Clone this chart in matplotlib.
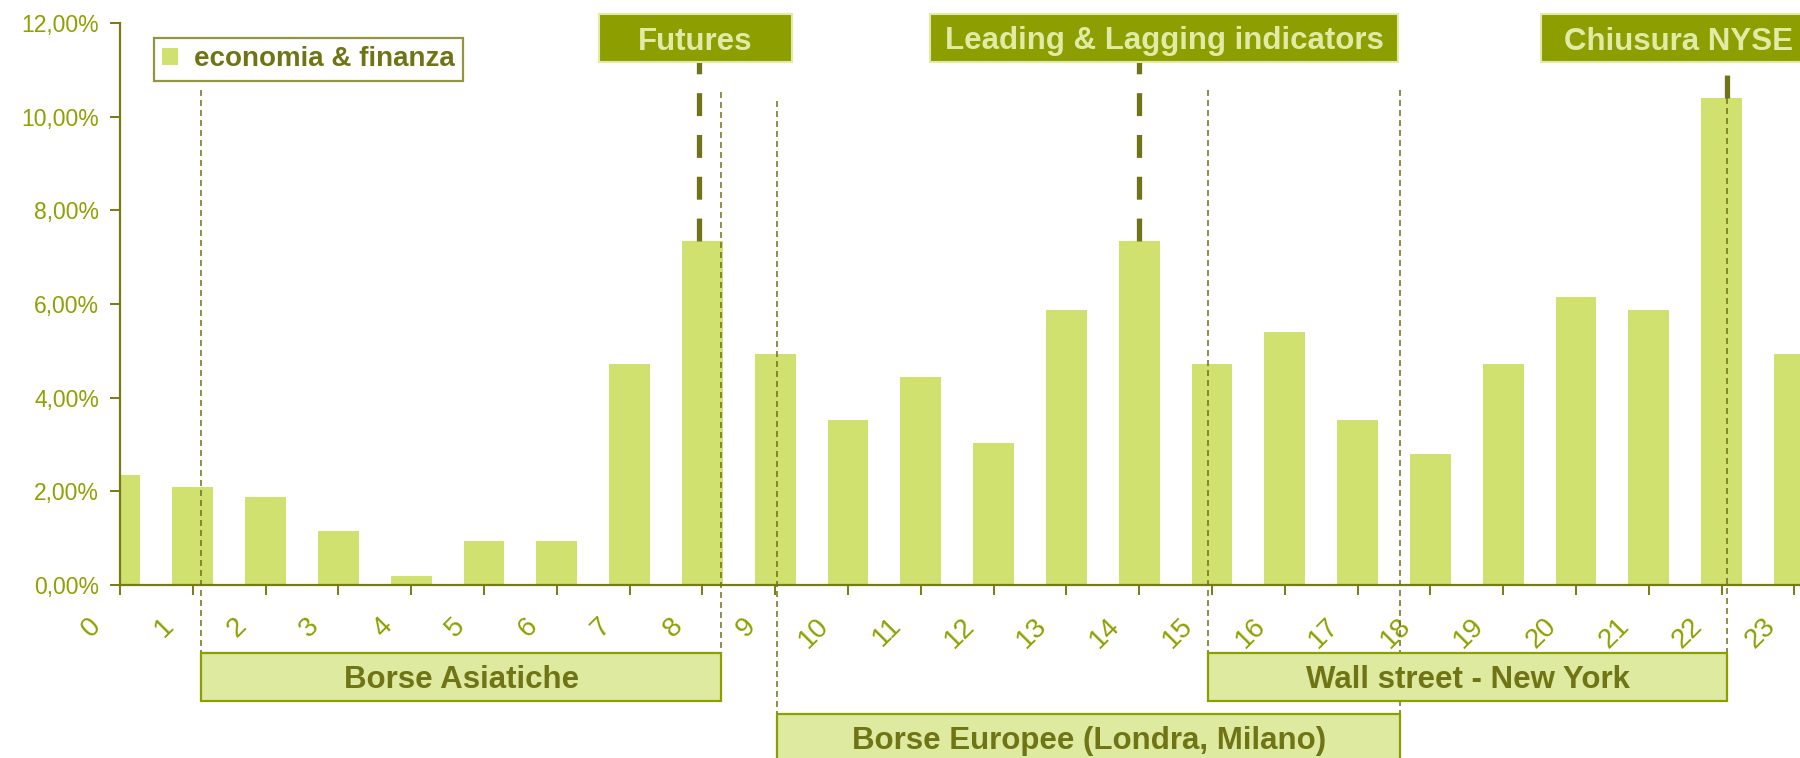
import matplotlib.pyplot as plt
from matplotlib.patches import Rectangle
from matplotlib.lines import Line2D
from matplotlib.transforms import ScaledTranslation
from matplotlib.ticker import FuncFormatter

plt.rcParams["font.family"] = ["Liberation Sans", "DejaVu Sans"]
plt.rcParams["lines.scale_dashes"] = False

# share of posts per hour (%)
hours = list(range(24))
share = [2.35, 2.10, 1.88, 1.15, 0.20, 0.93, 0.93, 4.72, 7.34, 4.94, 3.52, 4.45,
         3.03, 5.87, 7.34, 4.72, 5.41, 3.52, 2.79, 4.72, 6.14, 5.87, 10.40, 4.94]
series_name = "economia & finanza"

# events marked on top (box span in hours, bar they point at)
events = ["Futures", "Leading & Lagging indicators", "Chiusura NYSE"]
event_bar = [8, 14, 22]
event_line_x = [7.95, 14.0, 22.07]
event_span = [(6.58, 9.23), (11.13, 17.55), (19.52, 23.3)]

# market sessions (span in hours, row under the axis)
sessions = ["Borse Asiatiche", "Borse Europee (Londra, Milano)", "Wall street - New York"]
session_span = [(1.11, 8.26), (9.03, 17.58), (14.95, 22.07)]
session_row = [0, 1, 0]
session_line_top = [(90, 92), (101, 90), (90, None)]  # pixel rows where the guides start

BAR = "#D1E170"
AXC = "#7A7A14"
TICK_TXT = "#8FA000"
TOP_FILL = "#8C9E00"
TOP_TXT = "#E2EBA6"
LOW_FILL = "#DFEAA1"
LOW_EDGE = "#8C9E00"
LOW_TXT = "#6F7414"
GUIDE = "#6F6F1A"

W, H = 1800, 758
AX_TOP, AX_BOT, AX_LEFT = 23, 585, 120
YMAX = 12
step = 72.8

fig = plt.figure(figsize=(W / 100, H / 100), dpi=100)
ax = fig.add_axes([AX_LEFT / W, 1 - AX_BOT / H, 1 - AX_LEFT / W, (AX_BOT - AX_TOP) / H])
xmax = (W - AX_LEFT) / step


def py(px):
    # pixel row -> y data value
    return (AX_BOT - px) / (AX_BOT - AX_TOP) * YMAX


ax.bar(hours, share, width=0.56, color=BAR, zorder=2, label=series_name)
ax.set_xlim(0, xmax)
ax.set_ylim(0, YMAX)

for s in ["top", "right"]:
    ax.spines[s].set_visible(False)
for s in ["left", "bottom"]:
    ax.spines[s].set_color(AXC)
    ax.spines[s].set_linewidth(1.6)

ax.set_yticks(range(0, 13, 2))
ax.yaxis.set_major_formatter(FuncFormatter(lambda v, p: f"{v:.2f}%".replace(".", ",")))
ax.set_xticks(hours)
ax.set_xticklabels([str(h) for h in hours], rotation=45, ha="right", va="top")
ax.tick_params(axis="both", colors=AXC, labelcolor=TICK_TXT, length=7, width=1.4,
               direction="out")
ax.tick_params(axis="y", labelsize=16.5, pad=8)
ax.tick_params(axis="x", labelsize=20, pad=13)
shift = ScaledTranslation(-14 / 100, 0, fig.dpi_scale_trans)
for lab in ax.get_xticklabels():
    lab.set_transform(lab.get_transform() + shift)

leg = ax.legend(loc="upper left", bbox_to_anchor=(154 / W, 1 - 38 / H),
                bbox_transform=fig.transFigure, borderaxespad=0, fancybox=False,
                handlelength=0.55, handleheight=0.55, handletextpad=0.6,
                borderpad=0.3, prop={"weight": "bold", "size": 20})
leg.get_frame().set_edgecolor(AXC)
leg.get_frame().set_linewidth(1.6)
for t in leg.get_texts():
    t.set_color(LOW_TXT)

# session guides and boxes
rows = [(653, 701), (714, 762)]
for name, (x0, x1), r, tops in zip(sessions, session_span, session_row, session_line_top):
    yb, yt = py(rows[r][1]), py(rows[r][0])
    for x, top in zip((x0, x1), tops):
        ytop = share[22] if top is None else py(top)
        ax.add_line(Line2D([x, x], [ytop, yt], color=GUIDE, lw=1.1,
                           dashes=(4.3, 2.9), zorder=3, clip_on=False))
    ax.add_patch(Rectangle((x0, yb), x1 - x0, yt - yb, facecolor=LOW_FILL,
                           edgecolor=LOW_EDGE, lw=1.6, zorder=5, clip_on=False))
    ax.text((x0 + x1) / 2, (yb + yt) / 2, name, ha="center", va="center_baseline",
            fontsize=22.5, fontweight="bold", color=LOW_TXT, zorder=6, clip_on=False)

# event markers and boxes
for name, b, lx, (x0, x1) in zip(events, event_bar, event_line_x, event_span):
    yb, yt = py(62), py(14)
    ax.add_line(Line2D([lx, lx], [share[b], yb], color="#727218", lw=3.8,
                       dashes=(16.5, 13.6), zorder=3, clip_on=False))
    ax.add_patch(Rectangle((x0, yb), x1 - x0, yt - yb, facecolor=TOP_FILL,
                           edgecolor=TOP_TXT, lw=1.5, zorder=5, clip_on=False))
    ax.text((x0 + x1) / 2, (yb + yt) / 2, name, ha="center", va="center_baseline",
            fontsize=22.5, fontweight="bold", color=TOP_TXT, zorder=6, clip_on=False)

fig.savefig("out.png", dpi=100)
